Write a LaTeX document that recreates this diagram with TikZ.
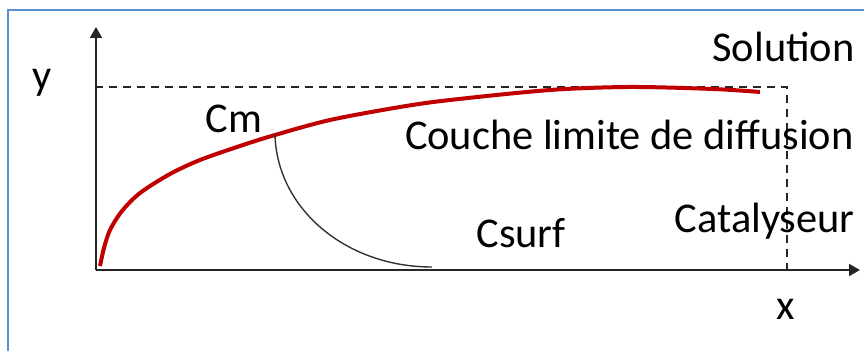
\documentclass[tikz,border=0pt]{standalone}
\usepackage{fontspec}
\setmainfont{Carlito}
\usetikzlibrary{arrows.meta}
\definecolor{frameblue}{RGB}{85,142,213}
\definecolor{curvered}{RGB}{192,0,0}
\begin{document}
\begin{tikzpicture}[x=0.5pt,y=-0.5pt,
  axis/.style={line width=1pt, draw=black!85, -{Triangle[length=5.5pt,width=6pt]}},
  limit/.style={line width=0.75pt, dash pattern=on 4pt off 3pt, draw=black!85},
  lbl/.style={inner sep=0pt, font=\fontsize{21.2}{25}\selectfont},
  profile/.style={line width=2pt, draw=curvered},
  arcline/.style={line width=0.7pt, draw=black!80}
]
\useasboundingbox (0,0) rectangle (864,351);
\draw[frameblue, line width=1pt] (8,351) -- (8,10) -- (864,10);
\coordinate (O) at (96,270);
\coordinate (ytip) at (96,27);
\coordinate (xtip) at (860,270);
\coordinate (tl) at (96,87);
\coordinate (tr) at (787,87);
\coordinate (br) at (787,270);
\draw[limit] (O) -- (tl) -- (tr) -- (br);
\draw[axis] (O) -- (ytip);
\draw[axis] (O) -- (xtip);
\coordinate (cm) at (275,135);
\coordinate (cs) at (432,267);
\draw[profile] plot[smooth, tension=0.5] coordinates {(100,266) (104,248) (110,230) (122,211) (140,193) (170,174) (200,160) (240,146) (275,135) (330,120) (400,107) (450,100) (550,90) (630,87) (713,89) (760,92)};
\draw[arcline] (cm) .. controls (277,208) and (345,267) .. (cs);
\node[lbl, anchor=base] (ylab) at (42,90) {y};
\node[lbl, anchor=base] (xlab) at (786,320) {x};
\node[lbl, anchor=base east] (sol) at (855,62) {Solution};
\node[lbl, anchor=base west] (cmlab) at (205,133) {Cm};
\node[lbl, anchor=base east] (couche) at (854,150) {Couche limite de diffusion};
\node[lbl, anchor=base west] (csurf) at (476,248) {Csurf};
\node[lbl, anchor=base east] (cata) at (855,233) {Catalyseur};
\end{tikzpicture}
\end{document}
